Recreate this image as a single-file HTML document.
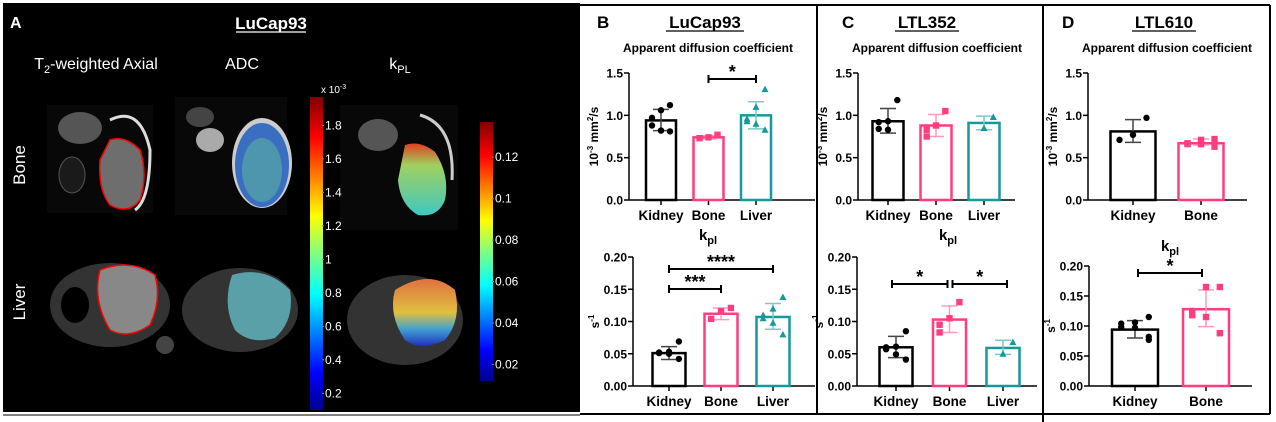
<!DOCTYPE html>
<html><head><meta charset="utf-8">
<style>
html,body{margin:0;padding:0;background:#fff;}
svg{display:block;font-family:"Liberation Sans",Arial,sans-serif;}
</style></head>
<body>
<svg id="fig" width="1276" height="422" viewBox="0 0 1276 422" xmlns="http://www.w3.org/2000/svg">
<defs>
<linearGradient id="jet" x1="0" y1="1" x2="0" y2="0">
<stop offset="0" stop-color="#00008f"/><stop offset="0.12" stop-color="#0000ff"/><stop offset="0.37" stop-color="#00ffff"/><stop offset="0.5" stop-color="#80ff80"/><stop offset="0.62" stop-color="#ffff00"/><stop offset="0.87" stop-color="#ff0000"/><stop offset="1" stop-color="#800000"/>
</linearGradient>
<linearGradient id="kplb" x1="0" y1="0" x2="0" y2="1"><stop offset="0" stop-color="#e04020"/><stop offset="0.3" stop-color="#a0d060"/><stop offset="1" stop-color="#40c8c0"/></linearGradient>
<linearGradient id="kpll" x1="0" y1="0" x2="0" y2="1"><stop offset="0" stop-color="#e07040"/><stop offset="0.5" stop-color="#e0c040"/><stop offset="0.75" stop-color="#40a0d0"/><stop offset="1" stop-color="#2030c0"/></linearGradient>
</defs>

<g>
<rect x="3" y="3" width="577" height="409" fill="#000"/>
<text x="10" y="28" fill="#fff" font-size="16" font-weight="bold">A</text>
<text x="271" y="29" fill="#fff" font-size="17" font-weight="bold" text-anchor="middle">LuCap93</text>
<line x1="236" y1="32" x2="306" y2="32" stroke="#fff" stroke-width="1.2"/>
<text x="96" y="69" fill="#fff" font-size="16" text-anchor="middle">T<tspan font-size="11" dy="4">2</tspan><tspan dy="-4">-weighted Axial</tspan></text>
<text x="242" y="69" fill="#fff" font-size="16" text-anchor="middle">ADC</text>
<text x="400" y="69" fill="#fff" font-size="16" text-anchor="middle">k<tspan font-size="11" dy="4">PL</tspan></text>
<text transform="translate(25,165) rotate(-90)" fill="#fff" font-size="17" text-anchor="middle">Bone</text>
<text transform="translate(25,302) rotate(-90)" fill="#fff" font-size="17" text-anchor="middle">Liver</text>
<g>
<rect x="47" y="105" width="106" height="108" fill="#080808"/>
<ellipse cx="80" cy="128" rx="22" ry="16" fill="#555"/><ellipse cx="72" cy="175" rx="13" ry="18" fill="#1a1a1a" stroke="#555"/>
<path d="M110 120 Q140 105 150 150 Q150 200 135 210" stroke="#ddd" stroke-width="3" fill="none"/>
<path d="M110 140 Q125 135 140 150 Q148 175 140 200 Q128 215 110 205 Q98 190 100 160 Z" fill="#6e6e6e" stroke="#f00" stroke-width="1.5"/>
</g>
<g>
<rect x="175" y="97" width="112" height="118" fill="#080808"/>
<ellipse cx="210" cy="140" rx="14" ry="12" fill="#aaa"/><ellipse cx="200" cy="117" rx="14" ry="10" fill="#444"/>
<ellipse cx="262" cy="163" rx="30" ry="45" fill="#ccc"/>
<ellipse cx="262" cy="165" rx="27" ry="42" fill="#3a6ec0"/>
<ellipse cx="262" cy="170" rx="20" ry="32" fill="#5ab0a0" opacity="0.6"/>
</g>
<g>
<rect x="340" y="105" width="118" height="125" fill="#080808"/>
<ellipse cx="378" cy="135" rx="20" ry="16" fill="#555"/>
<path d="M420 115 Q455 125 452 180" stroke="#ccc" stroke-width="3" fill="none"/>
<path d="M405 145 Q420 140 435 152 Q450 175 445 200 Q438 218 418 215 Q400 205 398 180 Z" fill="url(#kplb)"/>
</g>
<g>
<ellipse cx="110" cy="305" rx="60" ry="42" fill="#333"/><ellipse cx="75" cy="305" rx="14" ry="18" fill="#000"/>
<path d="M100 270 Q130 258 155 275 Q162 300 150 325 Q128 340 110 330 Q92 300 100 270 Z" fill="#888" stroke="#f00" stroke-width="1.5"/>
<circle cx="165" cy="345" r="9" fill="#444"/>
</g>
<g>
<ellipse cx="240" cy="310" rx="58" ry="42" fill="#333"/>
<path d="M232 275 Q265 265 290 290 Q295 320 275 338 Q250 345 235 330 Q222 305 232 275 Z" fill="#5aa0a8"/>
</g>
<g>
<ellipse cx="405" cy="320" rx="58" ry="45" fill="#333"/>
<path d="M395 290 Q430 268 455 290 Q462 320 445 340 Q420 352 405 340 Q388 315 395 290 Z" fill="url(#kpll)"/>
</g>
<g>
<rect x="310" y="97" width="13" height="313" fill="url(#jet)"/>
<text x="321" y="93" fill="#fff" font-size="10">x 10<tspan font-size="7" dy="-4">-3</tspan></text>
<g id="cb1" fill="#fff" font-size="12"></g>
</g>
<g>
<rect x="480" y="122" width="13" height="259" fill="url(#jet)"/>
<g id="cb2" fill="#fff" font-size="12"></g>
</g>
</g>

<g fill="none" stroke="#000" stroke-width="2">
<line x1="580" y1="5" x2="1270" y2="5"/>
<line x1="817" y1="5" x2="817" y2="414"/>
<line x1="1043" y1="5" x2="1043" y2="422"/>
<line x1="1270" y1="5" x2="1270" y2="414"/>
<line x1="580" y1="414" x2="1270" y2="414"/>
<line x1="3" y1="415" x2="580" y2="415" stroke-width="1"/>
</g>

<g font-weight="bold" font-size="17">
<text x="597" y="28">B</text>
<text x="705" y="28" text-anchor="middle">LuCap93</text>
<line x1="666" y1="31" x2="744" y2="31" stroke="#000" stroke-width="1.3"/>
<text x="842" y="28">C</text>
<text x="927" y="28" text-anchor="middle">LTL352</text>
<line x1="895" y1="31" x2="959" y2="31" stroke="#000" stroke-width="1.3"/>
<text x="1062" y="28">D</text>
<text x="1164" y="28" text-anchor="middle">LTL610</text>
<line x1="1132" y1="31" x2="1196" y2="31" stroke="#000" stroke-width="1.3"/>
</g>
<g id="charts"></g>
</svg>
<script>
const cb1Ticks = [0.2,0.4,0.6,0.8,1,1.2,1.4,1.6,1.8];
const cb2Ticks = [0.02,0.04,0.06,0.08,0.1,0.12];

const catsB = ["Kidney","Bone","Liver"];
const catsC = ["Kidney","Bone","Liver"];
const catsD = ["Kidney","Bone"];
const adcTicks = ["0.0","0.5","1.0","1.5"];
const kplTicks = ["0.00","0.05","0.10","0.15","0.20"];

const bAdcMean = [0.94,0.74,1.00];
const bAdcLo = [0.82,0.72,0.84];
const bAdcHi = [1.07,0.76,1.16];
const bAdcPts = [[1.12,1.06,0.97,0.88,0.82,0.81],[0.77,0.74,0.73],[1.31,1.10,0.96,0.93,0.90,0.83]];
const bKplMean = [0.051,0.112,0.107];
const bKplLo = [0.041,0.103,0.088];
const bKplHi = [0.061,0.121,0.128];
const bKplPts = [[0.069,0.053,0.052,0.051,0.050,0.042],[0.121,0.116,0.104],[0.138,0.120,0.110,0.105,0.098,0.080]];
const cAdcMean = [0.93,0.88,0.91];
const cAdcLo = [0.79,0.75,0.83];
const cAdcHi = [1.08,1.01,0.99];
const cAdcPts = [[1.18,0.93,0.92,0.84,0.83],[1.05,0.88,0.83,0.75],[0.98,0.85]];
const cKplMean = [0.060,0.103,0.059];
const cKplLo = [0.044,0.083,0.049];
const cKplHi = [0.077,0.124,0.071];
const cKplPts = [[0.085,0.061,0.060,0.057,0.049,0.041],[0.130,0.105,0.095,0.083],[0.068,0.050]];
const dAdcMean = [0.81,0.67];
const dAdcLo = [0.68,0.65];
const dAdcHi = [0.95,0.72];
const dAdcPts = [[0.97,0.77,0.71],[0.72,0.71,0.67,0.66,0.66,0.63]];
const dKplMean = [0.094,0.128];
const dKplLo = [0.080,0.099];
const dKplHi = [0.109,0.160];
const dKplPts = [[0.115,0.106,0.104,0.098,0.097,0.082,0.077],[0.165,0.165,0.125,0.118,0.115,0.088]];

const NS = "http://www.w3.org/2000/svg";
function mk(tag, attrs, parent){const e=document.createElementNS(NS,tag);for(const k in attrs)e.setAttribute(k,attrs[k]);parent.appendChild(e);return e;}

function colorbar(gid, ticks, y0, y1, vmin, vmax, x){
  const g=document.getElementById(gid);
  ticks.forEach(t=>{
    const y=y1-(t-vmin)/(vmax-vmin)*(y1-y0);
    const tx=mk('text',{x:x,y:y+4},g);
    
    
    tx.textContent=String(t);
    mk('line',{x1:x-3,y1:y,x2:x-1,y2:y,stroke:'#888'},g);
  });
}
colorbar('cb1', cb1Ticks, 97, 410, 0.1, 1.97, 325);
colorbar('cb2', cb2Ticks, 122, 381, 0.012, 0.137, 495);

const COLORS=["#000000","#ff3d7f","#15999a"];
const LIGHT=["#444444","#ff9abb","#7cc9c9"];
const SHAPES=["circle","square","triangle"];
const root=document.getElementById('charts');

function chart(o){
  const g=mk('g',{},root);
  
  
  const ys=v=>o.y0-(v/o.max)*(o.y0-o.yTop);
  const t=mk('text',{x:o.titleX,y:o.titleY,'font-size':o.sub?15:12,'font-weight':'bold','text-anchor':'middle'},g);
  
  
  if(o.sub){t.innerHTML='k<tspan font-size="11" dy="4">pl</tspan>';}else t.textContent=o.title;
  mk('line',{x1:o.ax,y1:o.yTop,x2:o.ax,y2:o.y0,stroke:'#000','stroke-width':1.5},g);
  mk('line',{x1:o.ax,y1:o.y0,x2:o.axEnd,y2:o.y0,stroke:'#000','stroke-width':1.5},g);
  o.ticks.forEach((lab,i)=>{
    const v=o.max*i/(o.ticks.length-1);const y=ys(v);
    mk('line',{x1:o.ax-5,y1:y,x2:o.ax,y2:y,stroke:'#000','stroke-width':1.5},g);
    const tl=mk('text',{x:o.ax-6,y:y+4.5,'font-size':12,'font-weight':'bold','text-anchor':'end'},g);
    
    
    tl.textContent=lab;
  });
  const yt=mk('text',{transform:`translate(${o.ax-o.ytOff},${(o.yTop+o.y0)/2}) rotate(-90)`,'font-size':12,'font-weight':'bold','text-anchor':'middle'},g);
  
  
  yt.innerHTML=o.ytitle;
  o.cats.forEach((c,i)=>{
    const cx=o.x0+i*o.dx, col=COLORS[i];
    mk('line',{x1:cx,y1:o.y0,x2:cx,y2:o.y0+5,stroke:'#000','stroke-width':1.5},g);
    const cl=mk('text',{x:cx,y:o.y0+20,'font-size':13.5,'font-weight':'bold','text-anchor':'middle'},g);
    
    
    cl.textContent=c;
    const ym=ys(o.mean[i]);
    const b=mk('rect',{x:cx-o.bw/2,y:ym,width:o.bw,height:o.y0-ym,fill:'#fff',stroke:col,'stroke-width':2.5},g);
    
    
    const lo=ys(o.lo[i]),hi=ys(o.hi[i]);
    const eb=mk('path',{d:`M${cx} ${lo}V${hi}M${cx-8} ${lo}H${cx+8}M${cx-8} ${hi}H${cx+8}`,stroke:LIGHT[i],'stroke-width':1.5,fill:'none'},g);
    
    
    const pts=o.pts[i], n=pts.length;
    pts.forEach((v,j)=>{
      const off=(n<=1)?0:((j%3)-1)*(o.bw*0.3)*(j%2?1:-1);
      const px=cx+off, py=ys(v);
      let m;
      if(SHAPES[i]==='circle') m=mk('circle',{cx:px,cy:py,r:3.2,fill:col},g);
      else if(SHAPES[i]==='square') m=mk('rect',{x:px-3.2,y:py-3.2,width:6.4,height:6.4,fill:col},g);
      else m=mk('path',{d:`M${px} ${py-3.5}L${px+3.5} ${py+3}L${px-3.5} ${py+3}Z`,fill:col},g);
      
      
    });
  });
  (o.sig||[]).forEach(s=>{
    const xa=o.x0+s[0]*o.dx+(s[4]||0), xb=o.x0+s[1]*o.dx+(s[5]||0), y=s[2];
    const sp=mk('path',{d:`M${xa} ${y-4}V${y+4}M${xb} ${y-4}V${y+4}M${xa} ${y}H${xb}`,stroke:'#000','stroke-width':2,fill:'none'},g);
    
    
    const st=mk('text',{x:(xa+xb)/2,y:y-1,'font-size':18,'font-weight':'bold','text-anchor':'middle'},g);
    
    
    st.textContent=s[3];
  });
}
const adcY='10<tspan font-size="8" dy="-5">-3</tspan><tspan dy="5"> mm</tspan><tspan font-size="8" dy="-5">2</tspan><tspan dy="5">/s</tspan>';
const kplY='s<tspan font-size="8" dy="-5">-1</tspan>';

chart({name:'b-adc-chart',title:'Apparent diffusion coefficient',titleX:708,titleY:52,ax:629,axEnd:815,yTop:73,y0:200,max:1.5,ticks:adcTicks,ytitle:adcY,ytOff:31,cats:catsB,x0:661,dx:47.5,bw:30,mean:bAdcMean,lo:bAdcLo,hi:bAdcHi,pts:bAdcPts,sig:[[1,2,79,'*']]});
chart({name:'b-kpl-chart',sub:true,titleX:708,titleY:240,ax:633,axEnd:815,yTop:257,y0:386,max:0.2,ticks:kplTicks,ytitle:kplY,ytOff:34,cats:catsB,x0:669,dx:52,bw:33,mean:bKplMean,lo:bKplLo,hi:bKplHi,pts:bKplPts,sig:[[0,2,269,'****'],[0,1,289,'***']]});
chart({name:'c-adc-chart',title:'Apparent diffusion coefficient',titleX:937,titleY:52,ax:858,axEnd:1015,yTop:73,y0:200,max:1.5,ticks:adcTicks,ytitle:adcY,ytOff:31,cats:catsC,x0:888,dx:48,bw:31,mean:cAdcMean,lo:cAdcLo,hi:cAdcHi,pts:cAdcPts});
chart({name:'c-kpl-chart',sub:true,titleX:948,titleY:240,ax:857,axEnd:1037,yTop:257,y0:386,max:0.2,ticks:kplTicks,ytitle:kplY,ytOff:34,cats:catsC,x0:896,dx:53.5,bw:33,mean:cKplMean,lo:cKplLo,hi:cKplHi,pts:cKplPts,sig:[[0,1,284,'*',-4,-2],[1,2,284,'*',3,4]]});
chart({name:'d-adc-chart',title:'Apparent diffusion coefficient',titleX:1167,titleY:52,ax:1088,axEnd:1247,yTop:73,y0:200,max:1.5,ticks:adcTicks,ytitle:adcY,ytOff:31,cats:catsD,x0:1133,dx:68,bw:45,mean:dAdcMean,lo:dAdcLo,hi:dAdcHi,pts:dAdcPts});
chart({name:'d-kpl-chart',sub:true,titleX:1170,titleY:251,ax:1089,axEnd:1252,yTop:266,y0:386,max:0.2,ticks:kplTicks,ytitle:kplY,ytOff:34,cats:catsD,x0:1135,dx:71,bw:46,mean:dKplMean,lo:dKplLo,hi:dKplHi,pts:dKplPts,sig:[[0,1,273,'*',3,-4]]});
</script>
</body></html>
